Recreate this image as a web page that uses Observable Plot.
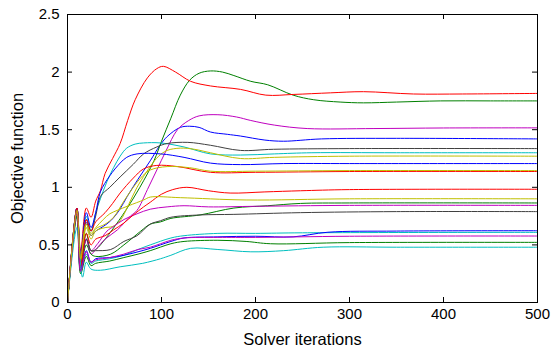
<!DOCTYPE html>
<html><head><meta charset="utf-8">
<script src="https://cdn.jsdelivr.net/npm/d3@7"></script>
<script src="https://cdn.jsdelivr.net/npm/@observablehq/plot@0.6"></script>
<style>body{margin:0;background:#fff;} svg{display:block;}</style>
</head><body><div id="chart"></div>
<script>
const xTicks = [0, 100, 200, 300, 400, 500];
const yTicks = [0, 0.5, 1, 1.5, 2, 2.5];
const xLabel = "Solver iterations";
const yLabel = "Objective function";

// series as [iteration, objective] key points
const b1 = [[0,0],[10,0.82],[14,0.35],[20,0.7],[25,0.58],[30,0.62],[38,0.66],[46,0.71],[55,0.80],[63.5,0.92],[75,1.07],[88,1.23],[98,1.36],[106,1.44],[120,1.52],[130,1.53],[140,1.52],[152,1.48],[170,1.46],[184,1.445],[210,1.41],[230,1.40],[270,1.42],[350,1.425],[500,1.42]];
const g1 = [[0,0],[10,0.8],[14,0.35],[20,0.6],[25,0.45],[30,0.46],[40,0.55],[47.5,0.63],[62,0.80],[77,1.0],[92,1.23],[100,1.40],[110,1.60],[120,1.80],[130,1.93],[140,1.99],[152,2.01],[165,2.0],[177,1.97],[195,1.92],[213,1.89],[240,1.80],[262,1.76],[290,1.74],[315,1.733],[350,1.74],[397,1.75],[450,1.75],[500,1.75]];
const r1 = [[0,0],[10,0.82],[14,0.45],[20,0.82],[25,0.74],[30,0.88],[35,0.97],[40,1.12],[48,1.25],[56,1.38],[64,1.58],[72,1.76],[85,1.95],[95,2.03],[102,2.05],[115,2.0],[131,1.92],[152,1.88],[184,1.85],[211,1.80],[240,1.806],[280,1.82],[315,1.83],[368,1.81],[420,1.81],[500,1.815]];
const c1 = [[0,0],[10,0.82],[14,0.4],[20,0.75],[25,0.62],[30,0.78],[35,0.90],[42,1.05],[49,1.17],[56,1.27],[63,1.34],[72,1.375],[81,1.385],[99,1.385],[124,1.35],[152,1.29],[184,1.28],[220,1.29],[260,1.30],[350,1.30],[500,1.30]];
const m1 = [[0,0],[10,0.8],[14,0.3],[20,0.55],[25,0.42],[30,0.46],[40,0.55],[53,0.63],[67,0.75],[74,0.80],[85,0.98],[95,1.15],[105,1.32],[117,1.50],[129,1.58],[140,1.62],[160,1.63],[180,1.61],[195,1.58],[220,1.54],[255,1.51],[326,1.51],[400,1.515],[500,1.516]];
const y1 = [[0,0],[10,0.8],[14,0.35],[20,0.65],[25,0.55],[30,0.62],[40,0.65],[48,0.66],[56,0.71],[65,0.85],[74,1.0],[88,1.18],[97,1.27],[106,1.32],[120,1.34],[135,1.33],[152,1.30],[184,1.25],[220,1.26],[300,1.27],[500,1.27]];
const k1 = [[0,0],[10,0.82],[14,0.4],[20,0.72],[25,0.62],[30,0.75],[35,0.92],[45,1.0],[56,1.09],[70,1.20],[81,1.29],[95,1.35],[106,1.38],[128,1.39],[152,1.365],[184,1.32],[219,1.33],[300,1.336],[500,1.336]];
const b2 = [[0,0],[10,0.82],[14,0.42],[20,0.78],[25,0.65],[30,0.78],[35,0.96],[45,1.10],[56,1.21],[63,1.26],[74,1.29],[99,1.29],[124,1.26],[152,1.21],[184,1.197],[230,1.206],[300,1.206],[500,1.206]];
const g2 = [[0,0],[10,0.78],[14,0.3],[20,0.5],[25,0.42],[30,0.40],[46,0.42],[60,0.50],[78,0.62],[88,0.68],[99,0.70],[110,0.73],[141,0.76],[177,0.82],[213,0.84],[248,0.86],[300,0.864],[500,0.864]];
const r2 = [[0,0],[10,0.82],[14,0.4],[20,0.72],[25,0.62],[30,0.70],[40,0.78],[48,0.86],[56,0.95],[70,1.08],[81,1.16],[95,1.19],[117,1.18],[152,1.13],[200,1.13],[300,1.137],[500,1.137]];
const c2 = [[0,0],[10,0.75],[14,0.27],[20,0.42],[25,0.34],[30,0.36],[45,0.38],[60,0.41],[75,0.46],[88,0.50],[110,0.56],[124,0.58],[160,0.60],[200,0.60],[250,0.605],[500,0.609]];
const m2 = [[0,0],[10,0.8],[14,0.3],[20,0.55],[25,0.45],[32,0.51],[42,0.62],[49,0.66],[60,0.72],[74,0.77],[88,0.81],[106,0.83],[124,0.84],[150,0.83],[200,0.835],[300,0.843],[500,0.843]];
const y2 = [[0,0],[10,0.8],[14,0.38],[20,0.68],[25,0.58],[30,0.64],[40,0.68],[49,0.74],[60,0.88],[70,1.0],[80,1.10],[88,1.15],[106,1.18],[130,1.17],[152,1.14],[200,1.14],[300,1.145],[500,1.145]];
const k2 = [[0,0],[10,0.8],[14,0.32],[20,0.55],[25,0.45],[30,0.45],[46,0.46],[60,0.53],[74,0.58],[88,0.68],[99,0.71],[110,0.74],[141,0.76],[177,0.765],[248,0.78],[350,0.789],[500,0.789]];
const b3 = [[0,0],[10,0.8],[14,0.28],[20,0.45],[25,0.35],[30,0.38],[45,0.39],[60,0.41],[75,0.44],[88,0.47],[110,0.53],[124,0.56],[160,0.57],[200,0.575],[240,0.57],[277,0.61],[350,0.62],[500,0.623]];
const g3 = [[0,0],[10,0.75],[14,0.25],[20,0.40],[25,0.32],[30,0.34],[45,0.36],[60,0.39],[75,0.42],[88,0.45],[110,0.51],[124,0.53],[160,0.54],[190,0.53],[216,0.51],[300,0.52],[500,0.522]];
const r3 = [[0,0],[10,0.8],[14,0.32],[20,0.6],[25,0.5],[30,0.55],[40,0.58],[49,0.63],[60,0.69],[70,0.76],[81,0.83],[88,0.87],[100,0.94],[112,0.98],[127,1.0],[150,0.97],[173,0.95],[210,0.96],[248,0.97],[300,0.98],[500,0.983]];
const c3 = [[0,0],[10,0.65],[16,0.22],[20,0.35],[25,0.29],[35,0.28],[56,0.31],[80,0.34],[99,0.38],[110,0.41],[131,0.47],[160,0.46],[195,0.44],[230,0.45],[272,0.48],[350,0.48],[500,0.48]];
const m3 = [[0,0],[10,0.78],[14,0.27],[20,0.44],[25,0.35],[30,0.37],[45,0.39],[60,0.42],[75,0.46],[88,0.48],[110,0.54],[124,0.56],[160,0.565],[200,0.565],[300,0.575],[500,0.577]];
const y3 = [[0,0],[10,0.8],[14,0.38],[20,0.68],[25,0.6],[30,0.65],[38,0.72],[45,0.77],[53,0.80],[65,0.84],[81,0.89],[88,0.915],[120,0.91],[190,0.89],[300,0.90],[500,0.90]];

const seriesList = [b1, g1, r1, c1, m1, y1, k1, b2, g2, r2, c2, m2, y2, k2, b3, g3, r3, c3, m3, y3];
const palette = ["#0000ff", "#008000", "#ff0000", "#00bfbf", "#bf00bf", "#bfbf00", "#404040"];

const rows = [];
seriesList.forEach((s, i) => s.forEach(([x, y]) => rows.push({id: i, x, y, c: palette[i % palette.length]})));

const tx = 5 * 500 / 470;   // ~5px in x units
const ty = 5 * 2.5 / 288;   // ~5px in y units

const chart = Plot.plot({
  width: 553, height: 356,
  marginLeft: 67, marginRight: 16, marginTop: 14, marginBottom: 54,
  x: {domain: [0, 500]},
  y: {domain: [0, 2.5]},
  color: {type: "identity"},
  style: {fontFamily: "'Liberation Sans', Arial, sans-serif", fontSize: "15px", color: "#000", background: "#fff"},
  marks: [
    Plot.line(rows, {x: "x", y: "y", z: "id", stroke: "c", strokeWidth: 1, curve: "catmull-rom"}),
    Plot.ruleX(xTicks, {x: d => d, y1: 0, y2: ty, stroke: "black"}),
    Plot.ruleX(xTicks, {x: d => d, y1: 2.5 - ty, y2: 2.5, stroke: "black"}),
    Plot.ruleY(yTicks, {y: d => d, x1: 0, x2: tx, stroke: "black"}),
    Plot.ruleY(yTicks, {y: d => d, x1: 500 - tx, x2: 500, stroke: "black"}),
    Plot.frame({stroke: "black", strokeWidth: 1}),
    Plot.axisX(xTicks, {tickSize: 0, tickPadding: 6, label: null, fontSize: 15}),
    Plot.axisY(yTicks, {tickSize: 0, tickPadding: 8, label: null, tickFormat: d => String(d), fontSize: 15}),
    Plot.text([xLabel], {frameAnchor: "bottom", dy: 42, text: d => d, fontSize: 16.5, textAnchor: "middle"}),
    Plot.text([yLabel], {frameAnchor: "left", dx: -50, rotate: -90, text: d => d, fontSize: 16.5, textAnchor: "middle"})
  ]
});
document.getElementById("chart").appendChild(chart);
</script>
</body></html>
